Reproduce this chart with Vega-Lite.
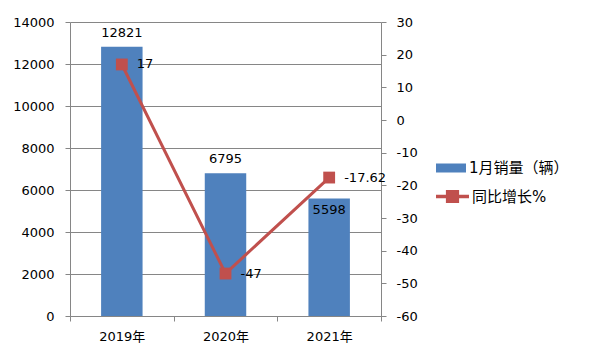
{
  "$schema": "https://vega.github.io/schema/vega-lite/v6.json",
  "width": 311,
  "height": 294,
  "autosize": "none",
  "padding": {"left": 70, "top": 22, "right": 219, "bottom": 48},
  "background": "white",
  "config": {
    "view": {"stroke": null},
    "font": "DejaVu Sans, Noto Sans CJK SC",
    "locale": {"number": {"decimal": ".", "thousands": ",", "grouping": [3], "currency": ["$", ""], "minus": "-"}}
  },
  "data": {
    "values": [
      {"year": "2019年", "sales": 12821, "growth": 17},
      {"year": "2020年", "sales": 6795, "growth": -47},
      {"year": "2021年", "sales": 5598, "growth": -17.62}
    ]
  },
  "encoding": {
    "x": {
      "field": "year",
      "type": "nominal",
      "scale": {"paddingInner": 0, "paddingOuter": 0},
      "axis": {
        "title": null,
        "labelAngle": 0,
        "tickBand": "extent",
        "domainColor": "#868686",
        "tickColor": "#868686",
        "tickSize": 5,
        "labelFontSize": 13,
        "labelColor": "black",
        "labelPadding": 9
      }
    }
  },
  "layer": [
    {
      "encoding": {
        "y": {
          "field": "sales",
          "type": "quantitative",
          "scale": {"domain": [0, 14000]},
          "axis": {
            "title": null,
            "orient": "left",
            "format": "d",
            "values": [0, 2000, 4000, 6000, 8000, 10000, 12000, 14000],
            "grid": true,
            "gridColor": "#868686",
            "domainColor": "#868686",
            "tickColor": "#868686",
            "tickSize": 5,
            "labelFontSize": 13,
            "labelColor": "black",
            "labelPadding": 11
          }
        }
      },
      "layer": [
        {
          "mark": {"type": "bar", "width": {"band": 0.4}},
          "encoding": {
            "color": {
              "datum": "1月销量（辆）",
              "type": "nominal",
              "scale": {"range": ["#4F81BD"]},
              "legend": {
                "title": null,
                "orient": "none",
                "legendX": 366,
                "legendY": 131,
                "symbolType": "M-1,-0.3H1V0.3H-1Z",
                "symbolSize": 900,
                "symbolStrokeWidth": 0,
                "labelFontSize": 15,
                "labelColor": "black",
                "labelOffset": 3
              }
            }
          }
        },
        {
          "transform": [{"filter": "datum.year != '2021年'"}],
          "mark": {"type": "text", "baseline": "alphabetic", "dy": -10, "fontSize": 13, "color": "black"},
          "encoding": {"text": {"field": "sales", "type": "nominal"}}
        },
        {
          "transform": [{"filter": "datum.year == '2021年'"}],
          "mark": {"type": "text", "baseline": "alphabetic", "dy": 16, "fontSize": 13, "color": "black"},
          "encoding": {"text": {"field": "sales", "type": "nominal"}}
        }
      ]
    },
    {
      "encoding": {
        "y": {
          "field": "growth",
          "type": "quantitative",
          "scale": {"domain": [-60, 30]},
          "axis": {
            "title": null,
            "orient": "right",
            "format": "d",
            "values": [-60, -50, -40, -30, -20, -10, 0, 10, 20, 30],
            "grid": false,
            "domainColor": "#868686",
            "tickColor": "#868686",
            "tickSize": 5,
            "labelFontSize": 13,
            "labelColor": "black",
            "labelPadding": 10
          }
        }
      },
      "layer": [
        {
          "mark": {"type": "line", "strokeWidth": 3, "point": {"shape": "square", "size": 140, "filled": true, "opacity": 1}},
          "encoding": {
            "color": {
              "datum": "同比增长%",
              "type": "nominal",
              "scale": {"range": ["#C0504D"]},
              "legend": {
                "title": null,
                "orient": "none",
                "legendX": 366,
                "legendY": 158,
                "symbolType": "M-1,-0.1H1V0.1H-1Z M-0.4,-0.4H0.4V0.4H-0.4Z",
                "symbolSize": 1089,
                "symbolStrokeWidth": 0,
                "symbolFillColor": "#C0504D",
                "labelFontSize": 15,
                "labelColor": "black",
                "labelOffset": 3
              }
            }
          }
        },
        {
          "mark": {"type": "text", "align": "left", "baseline": "middle", "dx": 15, "fontSize": 13, "color": "black"},
          "encoding": {"text": {"field": "growth", "type": "nominal"}}
        }
      ]
    }
  ],
  "resolve": {"scale": {"y": "independent", "color": "independent"}}
}
